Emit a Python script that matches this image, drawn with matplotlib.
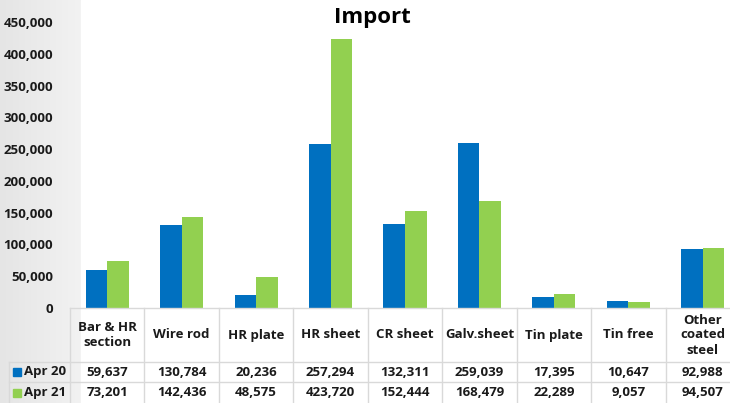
import matplotlib
matplotlib.use("Agg")
import matplotlib.pyplot as plt
import matplotlib.transforms as mtransforms
from matplotlib.ticker import FuncFormatter
from matplotlib.patches import Rectangle
from matplotlib.colors import LinearSegmentedColormap
import numpy as np

categories = ["Bar & HR\nsection", "Wire rod", "HR plate", "HR sheet", "CR sheet",
              "Galv.sheet", "Tin plate", "Tin free", "Other\ncoated\nsteel"]
series_names = ["Apr 20", "Apr 21"]
apr20 = [59637, 130784, 20236, 257294, 132311, 259039, 17395, 10647, 92988]
apr21 = [73201, 142436, 48575, 423720, 152444, 168479, 22289, 9057, 94507]
yticks = [0, 50000, 100000, 150000, 200000, 250000, 300000, 350000, 400000, 450000]
title = "Import"

blue = "#0070C0"
green = "#92D050"
line_c = "#d9d9d9"
txt_c = "#1a1a1a"
FONT = "Open Sans"
FS = 9.5

W, H = 730, 403
fig = plt.figure(figsize=(W / 100, H / 100), dpi=100)

# background gradient
bg = fig.add_axes([0, 0, 1, 1], zorder=-5)
bg.set_axis_off()
grad = np.linspace(0, 1, 256)[None, :]
cmap = LinearSegmentedColormap.from_list("g", ["#e5e5e5", "#f2f2f2"])
bg.imshow(grad, aspect="auto", cmap=cmap, extent=[0, 81 / W, 0, 1])
bg.add_patch(Rectangle((81 / W, 0), 1, 1, color="white", transform=bg.transAxes))
bg.set_xlim(0, 1)
bg.set_ylim(0, 1)

def fx(px):
    return px / W

def fy(py):
    return 1 - py / H

left_px, right_px = 70, 740
top_px, bot_px = 22, 308
ax = fig.add_axes([fx(left_px), fy(bot_px), (right_px - left_px) / W, (bot_px - top_px) / H])
ax.patch.set_alpha(0)
x = np.arange(len(categories))
bw = 0.29
ax.bar(x - bw / 2, apr20, bw, color=blue, zorder=3)
ax.bar(x + bw / 2, apr21, bw, color=green, zorder=3)
ax.set_xlim(-0.5, len(categories) - 0.5)
ax.set_ylim(0, 450000)
ax.set_yticks(yticks)
ax.yaxis.set_major_formatter(FuncFormatter(lambda v, p: f"{int(v):,}"))
ax.tick_params(axis="y", length=0, pad=12, labelsize=FS)
for lab in ax.get_yticklabels():
    lab.set_fontfamily(FONT)
    lab.set_fontweight("bold")
    lab.set_color(txt_c)
ax.set_xticks([])
for s in ax.spines.values():
    s.set_visible(False)

fig.text(fx(372), fy(17), title, ha="center", va="center", fontsize=16,
         fontweight="bold", family=FONT, color="black")

# table
trans = mtransforms.blended_transform_factory(ax.transData, fig.transFigure)
row_y = [fy(308), fy(362), fy(382), fy(403)]
fig.add_artist(plt.Line2D([fx(70), 1], [row_y[0]] * 2, color=line_c, lw=1))
for yy in row_y[1:3]:
    fig.add_artist(plt.Line2D([fx(9), 1], [yy] * 2, color=line_c, lw=1))
for i in range(len(categories) + 1):
    ax_x = i - 0.5
    fig.add_artist(plt.Line2D([ax_x, ax_x], [row_y[0], 0], color=line_c, lw=1,
                              transform=trans))
fig.add_artist(plt.Line2D([fx(9), fx(9)], [row_y[1], 0], color=line_c, lw=1))

hdr_y = fy(335)
r1_y = fy(372)
r2_y = fy(392.5)
for i, c in enumerate(categories):
    fig.text(i, hdr_y, c, transform=trans, ha="center", va="center", fontsize=FS,
             fontweight="bold", family=FONT, color=txt_c, linespacing=1.2)
    fig.text(i, r1_y, f"{apr20[i]:,}", transform=trans, ha="center", va="center",
             fontsize=FS, fontweight="bold", family=FONT, color=txt_c)
    fig.text(i, r2_y, f"{apr21[i]:,}", transform=trans, ha="center", va="center",
             fontsize=FS, fontweight="bold", family=FONT, color=txt_c)

for yy, col, name in [(r1_y, blue, series_names[0]), (r2_y, green, series_names[1])]:
    fig.add_artist(Rectangle((fx(13), yy - 4 / H), 8 / W, 8 / H, color=col,
                             transform=fig.transFigure))
    fig.text(fx(24), yy, name, ha="left", va="center", fontsize=FS,
             fontweight="bold", family=FONT, color=txt_c)

fig.savefig("out.png", dpi=100)
